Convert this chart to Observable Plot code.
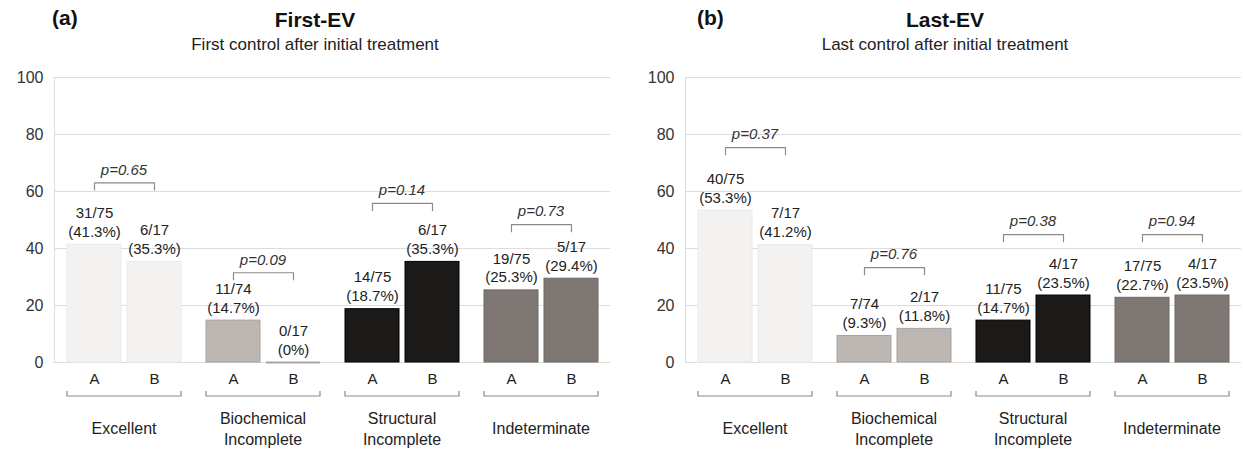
<!DOCTYPE html>
<html>
<head>
<meta charset="utf-8">
<script src="https://cdn.jsdelivr.net/npm/d3@7"></script>
<script src="https://cdn.jsdelivr.net/npm/@observablehq/plot@0.6"></script>
<style>
  body { margin: 0; background: #fff; font-family: "Liberation Sans", Arial, sans-serif; }
  #wrap { position: relative; width: 1243px; height: 450px; overflow: hidden; background: #fff; }
  .tag { position: absolute; top: 6px; font-weight: bold; font-size: 21px; color: #111; }
  .title { position: absolute; top: 8px; font-weight: bold; font-size: 21px; color: #111; transform: translateX(-50%); white-space: nowrap; }
  .sub { position: absolute; top: 35px; font-size: 17px; color: #222; transform: translateX(-50%); white-space: nowrap; }
  .chart { position: absolute; top: 60px; }
</style>
</head>
<body>
<div id="wrap">
  <div class="tag" style="left:52px">(a)</div>
  <div class="title" style="left:315px">First-EV</div>
  <div class="sub" style="left:315px">First control after initial treatment</div>
  <div class="tag" style="left:697px">(b)</div>
  <div class="title" style="left:945px">Last-EV</div>
  <div class="sub" style="left:945px">Last control after initial treatment</div>
  <div class="chart" id="left" style="left:0px"></div>
  <div class="chart" id="right" style="left:620px"></div>
</div>
<script>
// ---- data ----
const categories = ["Excellent", "Biochemical\nIncomplete", "Structural\nIncomplete", "Indeterminate"];
const groups = ["A", "B"];
const fillColors = ["#f4f2f1", "#bdb7b3", "#1c1a18", "#7e7773"];
const edgeColors = ["#eceae9", "#a9a39f", "#000000", "#6e6864"];
const yTicks = [0, 20, 40, 60, 80, 100];

const firstCounts = ["31/75", "6/17", "11/74", "0/17", "14/75", "6/17", "19/75", "5/17"];
const firstPercent = [41.3, 35.3, 14.7, 0, 18.7, 35.3, 25.3, 29.4];
const firstP = ["0.65", "0.09", "0.14", "0.73"];
const firstBracket = [63, 31.5, 55.8, 48.4];

const lastCounts = ["40/75", "7/17", "7/74", "2/17", "11/75", "4/17", "17/75", "4/17"];
const lastPercent = [53.3, 41.2, 9.3, 11.8, 14.7, 23.5, 22.7, 23.5];
const lastP = ["0.37", "0.76", "0.38", "0.94"];
const lastBracket = [75.4, 33.3, 44.9, 44.9];

function build({counts, percent, pvals, bracket, width, marginLeft, marginRight}) {
  const bars = [];
  categories.forEach((c, i) => groups.forEach((g, j) => {
    const k = i * 2 + j;
    const v = percent[k];
    bars.push({cat: c, grp: g, value: v, col: fillColors[i], edge: edgeColors[i],
      label: `${counts[k]}\n(${v === 0 ? "0" : v.toFixed(1)}%)`});
  }));
  const tick = 2.5;
  const links = [];
  categories.forEach((c, i) => {
    const h = bracket[i];
    links.push({cat: c, grp: "A", y: h - tick}, {cat: c, grp: "A", y: h},
               {cat: c, grp: "B", y: h}, {cat: c, grp: "B", y: h - tick});
  });
  const pLabels = categories.map((c, i) => ({cat: c, p: `p=${pvals[i]}`, y: bracket[i]}));

  const bottomBracket = (index, scales) => {
    const {x, y} = scales;
    const x1 = x("A"), x2 = x("B") + x.bandwidth();
    const y0 = y(0) + 34;
    return d3.create("svg:path")
      .attr("d", `M${x1},${y0 - 5}V${y0}H${x2}V${y0 - 5}`)
      .attr("fill", "none").attr("stroke", "#8a8a8a").attr("stroke-width", 1.2)
      .node();
  };

  return Plot.plot({
    width, height: 390,
    marginLeft, marginRight, marginTop: 17, marginBottom: 88,
    style: {fontFamily: "Liberation Sans, Arial, sans-serif", fontSize: "15px", color: "#222", background: "transparent"},
    fx: {domain: categories, padding: 0, axis: null},
    x: {domain: groups, paddingInner: 0.1, paddingOuter: 0.2025, axis: null},
    y: {domain: [0, 100], axis: null},
    color: {type: "identity"},
    marks: [
      Plot.gridY(yTicks, {stroke: "#dcdcdc", strokeOpacity: 1}),
      Plot.frame({anchor: "left", fx: () => categories[0], stroke: "#dcdcdc", strokeOpacity: 1}),
      Plot.axisY(yTicks, {tickSize: 0, tickPadding: 11, fontSize: 16, fill: "#333", label: null}),
      Plot.barY(bars, {fx: "cat", x: "grp", y: "value", fill: "col", stroke: "edge", strokeWidth: 1}),
      Plot.tickY(bars.filter(d => d.value === 0), {fx: "cat", x: "grp", y: "value", stroke: "edge", strokeWidth: 2}),
      Plot.text(bars, {fx: "cat", x: "grp", y: "value", text: "label", lineAnchor: "bottom", dy: -8, lineHeight: 1.25, fontSize: 15, fill: "#222"}),
      Plot.line(links, {fx: "cat", x: "grp", y: "y", z: "cat", stroke: "#8a8a8a", strokeWidth: 1.2}),
      Plot.text(pLabels, {fx: "cat", y: "y", text: "p", dy: -13, fontStyle: "italic", fontSize: 15, fill: "#333"}),
      Plot.axisX({tickSize: 0, tickPadding: 11, fontSize: 15, fill: "#222", label: null}),
      bottomBracket,
      Plot.text(categories, {fx: d => d, text: d => d, frameAnchor: "bottom", dy: 65, lineAnchor: "middle", lineHeight: 1.3, fontSize: 16, fill: "#222"})
    ]
  });
}

document.getElementById("left").append(build({
  counts: firstCounts, percent: firstPercent, pvals: firstP, bracket: firstBracket,
  width: 620, marginLeft: 53, marginRight: 9
}));
document.getElementById("right").append(build({
  counts: lastCounts, percent: lastPercent, pvals: lastP, bracket: lastBracket,
  width: 623, marginLeft: 64, marginRight: 1
}));
</script>
</body>
</html>
